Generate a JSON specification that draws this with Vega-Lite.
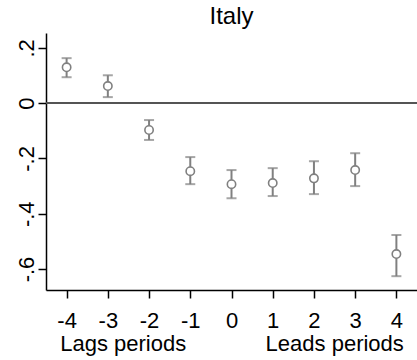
{
  "$schema": "https://vega.github.io/schema/vega-lite/v6.json",
  "width": 371,
  "height": 257,
  "autosize": "none",
  "padding": {"left": 46, "top": 33, "right": 0, "bottom": 70},
  "background": "white",
  "config": {
    "font": "Liberation Sans",
    "view": {"stroke": null},
    "axis": {"grid": false, "domainColor": "black", "tickColor": "black", "labelColor": "black", "titleColor": "black", "labelFont": "Liberation Sans", "titleFont": "Liberation Sans", "labelFontSize": 22, "titleFontSize": 22, "titleFontWeight": "normal", "tickSize": 8, "domainWidth": 1.5, "tickWidth": 1.5}
  },
  "title": {"text": "Italy", "fontSize": 24, "fontWeight": "normal", "font": "Liberation Sans", "color": "black", "anchor": "middle", "offset": 4},
  "data": {"values": [
    {"period": -4, "est": 0.130, "lo": 0.094, "hi": 0.163},
    {"period": -3, "est": 0.062, "lo": 0.022, "hi": 0.101},
    {"period": -2, "est": -0.097, "lo": -0.133, "hi": -0.061},
    {"period": -1, "est": -0.246, "lo": -0.293, "hi": -0.195},
    {"period": 0, "est": -0.293, "lo": -0.344, "hi": -0.242},
    {"period": 1, "est": -0.289, "lo": -0.336, "hi": -0.235},
    {"period": 2, "est": -0.272, "lo": -0.329, "hi": -0.210},
    {"period": 3, "est": -0.242, "lo": -0.300, "hi": -0.181},
    {"period": 4, "est": -0.546, "lo": -0.626, "hi": -0.477}
  ]},
  "layer": [
    {
      "mark": {"type": "rule", "color": "#555555", "strokeWidth": 1.5},
      "encoding": {"y": {"datum": 0, "type": "quantitative"}}
    },
    {
      "mark": {"type": "rule", "color": "#808080", "strokeWidth": 2},
      "encoding": {
        "x": {"field": "period", "type": "quantitative", "scale": {"domain": [-4.5, 4.5], "nice": false, "zero": false},
              "axis": {"values": [-4, -3, -2, -1, 0, 1, 2, 3, 4], "labelExpr": "(datum.value < 0 ? '-' : '') + abs(datum.value)", "labelPadding": 12, "title": "Lags periods\u00a0\u00a0\u00a0\u00a0\u00a0\u00a0\u00a0\u00a0\u00a0\u00a0\u00a0\u00a0\u00a0Leads periods", "titlePadding": 2, "labelFlush": false}},
        "y": {"field": "lo", "type": "quantitative", "scale": {"domain": [-0.676, 0.254], "nice": false, "zero": false},
              "axis": {"values": [-0.6, -0.4, -0.2, 0, 0.2], "labelExpr": "datum.value == 0 ? '0' : (datum.value < 0 ? '-' : '') + replace(format(abs(datum.value), '.1f'), '0.', '.')", "labelAngle": -90, "labelAlign": "center", "labelBaseline": "alphabetic", "labelPadding": 5, "title": null}},
        "y2": {"field": "hi"}
      }
    },
    {
      "mark": {"type": "tick", "color": "#808080", "orient": "horizontal", "size": 10, "thickness": 2},
      "encoding": {"x": {"field": "period", "type": "quantitative"}, "y": {"field": "lo", "type": "quantitative"}}
    },
    {
      "mark": {"type": "tick", "color": "#808080", "orient": "horizontal", "size": 10, "thickness": 2},
      "encoding": {"x": {"field": "period", "type": "quantitative"}, "y": {"field": "hi", "type": "quantitative"}}
    },
    {
      "mark": {"type": "point", "shape": "circle", "filled": true, "fill": "white", "stroke": "#808080", "strokeWidth": 1.6, "size": 70, "opacity": 1},
      "encoding": {"x": {"field": "period", "type": "quantitative"}, "y": {"field": "est", "type": "quantitative"}}
    }
  ]
}
